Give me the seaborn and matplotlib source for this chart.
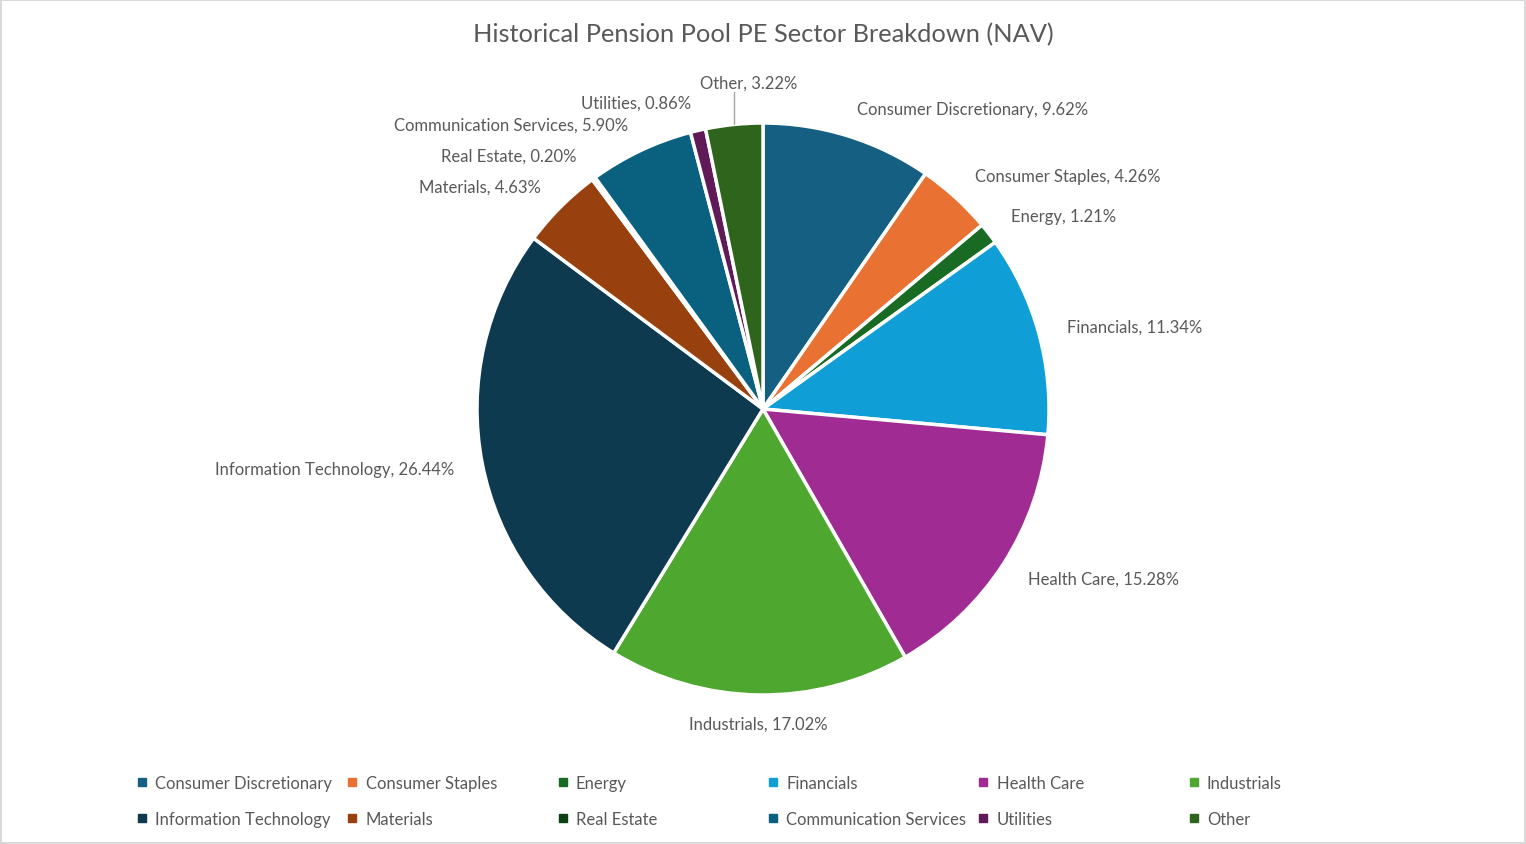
import numpy as np
import matplotlib.pyplot as plt
from matplotlib.lines import Line2D
import seaborn as sns

sectors = ["Consumer Discretionary", "Consumer Staples", "Energy", "Financials",
           "Health Care", "Industrials", "Information Technology", "Materials",
           "Real Estate", "Communication Services", "Utilities", "Other"]
shares = [9.62, 4.26, 1.21, 11.34, 15.28, 17.02, 26.44, 4.63, 0.20, 5.90, 0.86, 3.22]
colors = ["#156082", "#E97132", "#196B24", "#0F9ED5", "#A02B93", "#4EA72E",
          "#0D3A4E", "#99400F", "#0F4116", "#09607F", "#601A58", "#2F641C"]

sns.set_theme(style="white")
plt.rcParams['font.family'] = ['Lato', 'DejaVu Sans']
grey = "#595959"

W, H = 1526, 845
fig = plt.figure(figsize=(W / 100, H / 100), dpi=100)
fig.patch.set_edgecolor("#d9d9d9")
fig.patch.set_linewidth(1.5)

# pie centred at (763, 410) px, radius 286 px
ax = fig.add_axes([477 / W, 149 / H, 572 / W, 572 / H])
labels = [f"{s}, {v:.2f}%" for s, v in zip(sectors, shares)]
wedges, texts = ax.pie(shares, labels=labels, colors=colors, startangle=90,
                       counterclock=False, labeldistance=1.1,
                       wedgeprops=dict(edgecolor="white", linewidth=2.5),
                       textprops=dict(color=grey, fontsize=12))
ax.set_xlim(-1, 1)
ax.set_ylim(-1, 1)
ax.set_aspect("equal")

for w, t in zip(wedges, texts):
    ang = np.deg2rad((w.theta1 + w.theta2) / 2)
    if abs(np.cos(ang)) < 0.1:
        t.set_ha("center")

# "Other" label sits higher with a leader line
w = wedges[-1]
ang = np.deg2rad((w.theta1 + w.theta2) / 2)
mx = np.cos(ang)
texts[-1].set_position((mx + 0.05, 1.14))
texts[-1].set_ha("center")
ax.plot([mx, mx], [np.sin(ang) * 1.0, 1.11], color="#a6a6a6", lw=1, clip_on=False)

fig.text(0.5, 1 - 35 / H, "Historical Pension Pool PE Sector Breakdown (NAV)",
         ha="center", va="center", color=grey, fontsize=18.3)

# legend: 6 equal-width columns, 2 rows
for col in range(6):
    idx = [col, col + 6]
    handles = [Line2D([], [], marker="s", linestyle="none", markersize=6,
                      color=colors[i]) for i in idx]
    leg = fig.legend(handles, [sectors[i] for i in idx], loc="upper left",
                     bbox_to_anchor=((137 + 210.3 * col) / W, 1 - 776 / H),
                     frameon=False, fontsize=12, labelcolor=grey,
                     handlelength=0.6, handletextpad=0.5, labelspacing=1.2,
                     borderpad=0, borderaxespad=0)

fig.savefig("out.png", dpi=100)
